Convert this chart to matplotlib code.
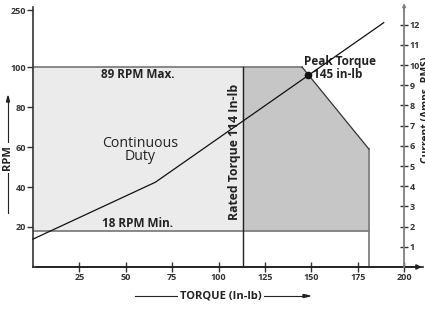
import matplotlib.pyplot as plt

# data
torque_ticks = [25, 50, 75, 100, 125, 150, 175, 200]
rpm_ticks = [20, 40, 60, 80, 100]
amp_ticks = [1, 2, 3, 4, 5, 6, 7, 8, 9, 10, 11, 12]

rpm_max = 100
rpm_min = 18
rated_torque = 113
peak_corner = 145
max_torque = 181
rpm_at_max_torque = 59

continuous_x = [0, rated_torque, rated_torque, 0]
continuous_y = [rpm_min, rpm_min, rpm_max, rpm_max]
peak_x = [rated_torque, max_torque, max_torque, peak_corner, rated_torque]
peak_y = [rpm_min, rpm_min, rpm_at_max_torque, rpm_max, rpm_max]

current_torque = [0, 66, 189]
current_amps = [1.38, 4.2, 12.1]
peak_point = (148, 96)

plt.rcParams['font.family'] = ['Open Sans', 'DejaVu Sans']

fig = plt.figure(figsize=(4.25, 3.09), dpi=100)
ax = fig.add_axes([0.0776, 0.136, 0.917, 0.841])
ax.set_xlim(0, 210)
ax.set_ylim(0, 130)

gray = '#7f7f7f'
ax.fill(continuous_x, continuous_y, color='#ebebeb', lw=0)
ax.fill(peak_x, peak_y, color='#c6c6c6', lw=0)
ax.plot([0, peak_corner], [rpm_max, rpm_max], color=gray, lw=1.3)
ax.plot([0, max_torque], [rpm_min, rpm_min], color=gray, lw=1.3)
ax.plot([max_torque, max_torque], [0, rpm_at_max_torque], color=gray, lw=1.3)
ax.plot([peak_corner, max_torque], [rpm_max, rpm_at_max_torque], color='#333333', lw=0.9)
ax.plot([rated_torque, rated_torque], [0, rpm_max], color='#222222', lw=1.0)

for s in ['top', 'right']:
    ax.spines[s].set_visible(False)
ax.spines['left'].set_color('#333333')
ax.spines['bottom'].set_color('#222222')
ax.spines['left'].set_linewidth(1.2)
ax.spines['bottom'].set_linewidth(1.2)
ax.annotate('', xy=(211, 0), xytext=(0, 0), annotation_clip=False,
            arrowprops=dict(arrowstyle='-|>', color='#222222', lw=1.2, mutation_scale=7))

ax.set_xticks(torque_ticks)
ax.set_xticklabels([str(t) for t in torque_ticks], fontsize=6.5, fontweight='bold', color='#333333')
ax.tick_params(axis='x', direction='inout', length=7, width=1, color='#333333', pad=1)
ax.set_yticks(rpm_ticks + [128.5])
ax.set_yticklabels([str(r) for r in rpm_ticks] + ['250'], fontsize=6.5, fontweight='bold', color='#333333')
ax.tick_params(axis='y', direction='out', length=4, width=1, color='#333333', pad=1)
ax.yaxis.get_major_ticks()[-1].tick1line.set_visible(False)

ax2 = ax.twinx()
ax2.set_ylim(0, 130 / 10.1)
for s in ['top', 'left', 'bottom']:
    ax2.spines[s].set_visible(False)
ax2.spines['right'].set_position(('data', 200))
ax2.spines['right'].set_color(gray)
ax2.spines['right'].set_linewidth(1.3)
ax2.set_yticks(amp_ticks)
ax2.set_yticklabels([str(a) for a in amp_ticks], fontsize=6.5, fontweight='bold', color='#333333')
ax2.tick_params(axis='y', direction='inout', length=6, width=1, color='#333333', pad=1)
ax2.annotate('', xy=(200, 13.2), xytext=(200, 12.5), annotation_clip=False,
             arrowprops=dict(arrowstyle='-|>', color=gray, lw=1.0, mutation_scale=5))
ax2.plot(current_torque, current_amps, color='#111111', lw=0.9, clip_on=False)

ax.plot(*peak_point, 'o', color='#111111', ms=4.5, zorder=5)

ax.text(56.5, 96.5, '89 RPM Max.', ha='center', va='center', fontsize=8.5, fontweight='bold', color='#222222')
ax.text(56.5, 21.5, '18 RPM Min.', ha='center', va='center', fontsize=8.5, fontweight='bold', color='#222222')
ax.text(57.5, 58.5, 'Continuous\nDuty', ha='center', va='center', fontsize=10.2, color='#222222',
        linespacing=0.9)
ax.text(108.8, 57.7, 'Rated Torque 114 In-lb', rotation=90, ha='center', va='center',
        fontsize=8.8, fontweight='bold', color='#222222')
ax.text(146, 103, 'Peak Torque', ha='left', va='center', fontsize=8.5, fontweight='bold', color='#222222')
ax.text(151, 96.3, '145 in-lb', ha='left', va='center', fontsize=8.5, fontweight='bold', color='#222222')

# axis titles with arrows
fig.text(221 / 425, 1 - 296 / 309, 'TORQUE (In-lb)', ha='center', va='center', fontsize=8,
         fontweight='bold', color='#222222', bbox=dict(fc='white', ec='none', pad=1.5))
fig.add_artist(plt.Line2D([135 / 425, 305 / 425], [1 - 296 / 309] * 2, color='#222222', lw=0.8, zorder=-1))
fig.patches.append(plt.Polygon([[303 / 425, 1 - 294.5 / 309], [303 / 425, 1 - 297.5 / 309],
                                [310 / 425, 1 - 296 / 309]], closed=True, color='#222222',
                               transform=fig.transFigure, figure=fig))
fig.text(8 / 425, 1 - 158 / 309, 'RPM', rotation=90, ha='center', va='center', fontsize=8,
         fontweight='bold', color='#222222', bbox=dict(fc='white', ec='none', pad=1.5))
fig.add_artist(plt.Line2D([8 / 425] * 2, [1 - 213 / 309, 1 - 100 / 309], color='#222222', lw=0.8, zorder=-1))
fig.patches.append(plt.Polygon([[6.5 / 425, 1 - 102 / 309], [9.5 / 425, 1 - 102 / 309],
                                [8 / 425, 1 - 96 / 309]], closed=True, color='#222222',
                               transform=fig.transFigure, figure=fig))
fig.text(426.5 / 425, 1 - 110 / 309, 'Current (Amps, RMS)', rotation=90, ha='center', va='center',
         fontsize=7.5, fontweight='bold', color='#222222')

fig.savefig('out.png', dpi=100)
